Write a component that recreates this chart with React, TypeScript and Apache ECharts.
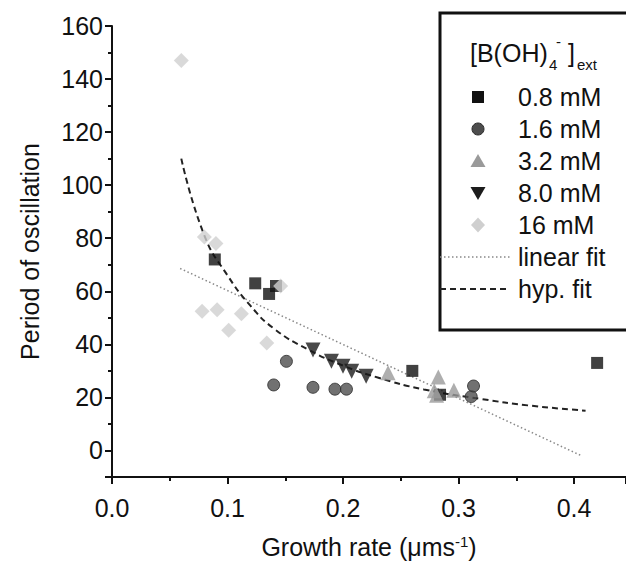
import React, { useEffect, useRef } from "react";
import * as echarts from "echarts";

// ---- data ----
const sq08X = [0.089, 0.124, 0.136, 0.142, 0.26, 0.284, 0.42];
const sq08Y = [72, 63, 59, 62, 30, 21, 33];

const c16X = [0.14, 0.151, 0.174, 0.193, 0.203, 0.311, 0.313];
const c16Y = [24.7, 33.6, 23.8, 23.1, 23.1, 20.3, 24.3];

const t32X = [0.239, 0.2825, 0.279, 0.281, 0.296];
const t32Y = [29.3, 27.7, 22.5, 20.8, 22.7];

const t80X = [0.174, 0.19, 0.2, 0.2075, 0.22];
const t80Y = [37.9, 33.6, 31.7, 29.9, 28];

const d16X = [0.06, 0.08, 0.09, 0.078, 0.091, 0.101, 0.112, 0.134, 0.146];
const d16Y = [147, 80.5, 78, 52.5, 53, 45.3, 51.5, 40.5, 62];

const linX = [0.059, 0.407];
const linY = [68.6, -2.1];

const hypX = [0.06, 0.08, 0.1, 0.12, 0.14, 0.17, 0.2, 0.23, 0.27, 0.32, 0.36, 0.41];
const hypY = [110, 81, 66, 54.5, 46, 38, 32, 27.5, 23, 19.4, 17, 15];

const seriesNames = ["0.8 mM", "1.6 mM", "3.2 mM", "8.0 mM", "16 mM", "linear fit", "hyp. fit"];

const FONT = '"Liberation Sans", Arial, Helvetica, sans-serif';
const FS = 25;

const zip = (xs: number[], ys: number[]) => xs.map((x, i) => [x, ys[i]]);

// legend geometry
const LG_LEFT = 440;
const LG_MARK_X = 478;
const LG_TEXT_X = 518;
const LG_ROW0 = 97;
const LG_PITCH = 32;

function legendMarker(i: number, cy: number): any {
  const cx = LG_MARK_X;
  switch (i) {
    case 0:
      return { type: "rect", shape: { x: cx - 6, y: cy - 6, width: 12, height: 12 }, style: { fill: "#111" } };
    case 1:
      return { type: "circle", shape: { cx, cy, r: 6 }, style: { fill: "#4d4d4d", stroke: "#2a2a2a", lineWidth: 1 } };
    case 2:
      return {
        type: "polygon",
        shape: { points: [[cx, cy - 7], [cx + 7.5, cy + 6], [cx - 7.5, cy + 6]] },
        style: { fill: "#9a9a9a" },
      };
    case 3:
      return {
        type: "polygon",
        shape: { points: [[cx - 7.5, cy - 6], [cx + 7.5, cy - 6], [cx, cy + 7]] },
        style: { fill: "#1c1c1c" },
      };
    case 4:
      return {
        type: "polygon",
        shape: { points: [[cx, cy - 7.5], [cx + 7, cy], [cx, cy + 7.5], [cx - 7, cy]] },
        style: { fill: "#cfcfcf" },
      };
    case 5:
      return {
        type: "line",
        shape: { x1: LG_LEFT, y1: cy, x2: 512, y2: cy },
        style: { stroke: "#888", lineWidth: 1.5, lineDash: [1.5, 2.5] },
      };
    default:
      return {
        type: "line",
        shape: { x1: LG_LEFT, y1: cy, x2: 510, y2: cy },
        style: { stroke: "#222", lineWidth: 2, lineDash: [6, 4] },
      };
  }
}

export default function App() {
  const ref = useRef<HTMLDivElement>(null);
  useEffect(() => {
    if (!ref.current) return;
    const chart = echarts.init(ref.current, undefined, { renderer: "svg" });
    const axisCommon = {
      axisLine: { show: true, onZero: false, lineStyle: { color: "#111", width: 2 } },
      axisTick: { show: true, inside: false, length: 7, lineStyle: { color: "#111", width: 2 } },
      minorTick: { show: true, splitNumber: 2, length: 4, lineStyle: { color: "#111", width: 2 } },
      splitLine: { show: false },
      minorSplitLine: { show: false },
    };

    const legendGraphics: any[] = [];
    seriesNames.forEach((name, i) => {
      const cy = LG_ROW0 + i * LG_PITCH;
      legendGraphics.push({ ...legendMarker(i, cy), z: 10 });
      legendGraphics.push({
        type: "text",
        x: LG_TEXT_X,
        y: cy,
        style: { text: name, font: `${FS}px ${FONT}`, fill: "#111", verticalAlign: "middle" },
        z: 10,
      });
    });

    chart.setOption({
      animation: false,
      backgroundColor: "#fff",
      textStyle: { fontFamily: FONT },
      grid: { left: 112, top: 26, right: 0, bottom: 77, containLabel: false },
      xAxis: {
        type: "value",
        min: 0,
        max: 0.445,
        interval: 0.1,
        ...axisCommon,
        axisLabel: {
          color: "#111",
          fontSize: FS,
          fontFamily: FONT,
          margin: 18,
          showMaxLabel: false,
          formatter: (v: number) => v.toFixed(1),
        },
        name: "Growth rate (μms{sup|-1})",
        nameLocation: "middle",
        nameGap: 57,
        nameTextStyle: {
          color: "#111",
          fontSize: FS,
          fontFamily: FONT,
          rich: { sup: { fontSize: 15, verticalAlign: "top", fontFamily: FONT, color: "#111" } },
        },
      },
      yAxis: {
        type: "value",
        min: -10,
        max: 160,
        splitNumber: 8,
        ...axisCommon,
        axisLabel: {
          color: "#111",
          fontSize: FS,
          fontFamily: FONT,
          margin: 9,
          showMinLabel: false,
        },
        name: "Period of oscillation",
        nameLocation: "middle",
        nameGap: 70,
        nameTextStyle: { color: "#111", fontSize: FS, fontFamily: FONT },
      },
      legend: { show: false },
      graphic: [
        {
          type: "rect",
          shape: { x: 440, y: 13, width: 200, height: 317 },
          style: { fill: "#fff", stroke: "#111", lineWidth: 3 },
          z: 5,
        },
        {
          type: "text",
          x: 470,
          y: 53,
          style: { text: "[B(OH)", font: `${FS}px ${FONT}`, fill: "#111", verticalAlign: "middle" },
          z: 10,
        },
        {
          type: "text",
          x: 549,
          y: 64,
          style: { text: "4", font: `15px ${FONT}`, fill: "#111", verticalAlign: "middle" },
          z: 10,
        },
        {
          type: "text",
          x: 556,
          y: 41,
          style: { text: "-", font: `15px ${FONT}`, fill: "#111", verticalAlign: "middle" },
          z: 10,
        },
        {
          type: "text",
          x: 568,
          y: 53,
          style: { text: "]", font: `${FS}px ${FONT}`, fill: "#111", verticalAlign: "middle" },
          z: 10,
        },
        {
          type: "text",
          x: 577,
          y: 64,
          style: { text: "ext", font: `15px ${FONT}`, fill: "#111", verticalAlign: "middle" },
          z: 10,
        },
        ...legendGraphics,
      ],
      series: [
        {
          name: "0.8 mM",
          type: "scatter",
          symbol: "rect",
          symbolSize: 12,
          itemStyle: { color: "#111" },
          data: zip(sq08X, sq08Y),
        },
        {
          name: "1.6 mM",
          type: "scatter",
          symbol: "circle",
          symbolSize: 12,
          itemStyle: { color: "#4d4d4d", borderColor: "#2a2a2a", borderWidth: 1 },
          data: zip(c16X, c16Y),
        },
        {
          name: "3.2 mM",
          type: "scatter",
          symbol: "triangle",
          symbolSize: 15,
          itemStyle: { color: "#9a9a9a" },
          data: zip(t32X, t32Y),
        },
        {
          name: "8.0 mM",
          type: "scatter",
          symbol: "triangle",
          symbolRotate: 180,
          symbolSize: 15,
          itemStyle: { color: "#1c1c1c" },
          data: zip(t80X, t80Y),
        },
        {
          name: "16 mM",
          type: "scatter",
          symbol: "diamond",
          symbolSize: 15,
          itemStyle: { color: "#cfcfcf" },
          data: zip(d16X, d16Y),
        },
        {
          name: "linear fit",
          type: "line",
          symbol: "none",
          lineStyle: { color: "#888", width: 1.5, type: [1.5, 2.5] },
          data: zip(linX, linY),
          z: 1,
        },
        {
          name: "hyp. fit",
          type: "line",
          symbol: "none",
          smooth: true,
          lineStyle: { color: "#222", width: 2, type: [6, 4] },
          data: zip(hypX, hypY),
          z: 1,
        },
      ],
    });
    return () => chart.dispose();
  }, []);
  return (
    <div
      ref={ref}
      style={{ position: "fixed", left: 0, top: 0, width: 626, height: 564, background: "#fff" }}
    />
  );
}
